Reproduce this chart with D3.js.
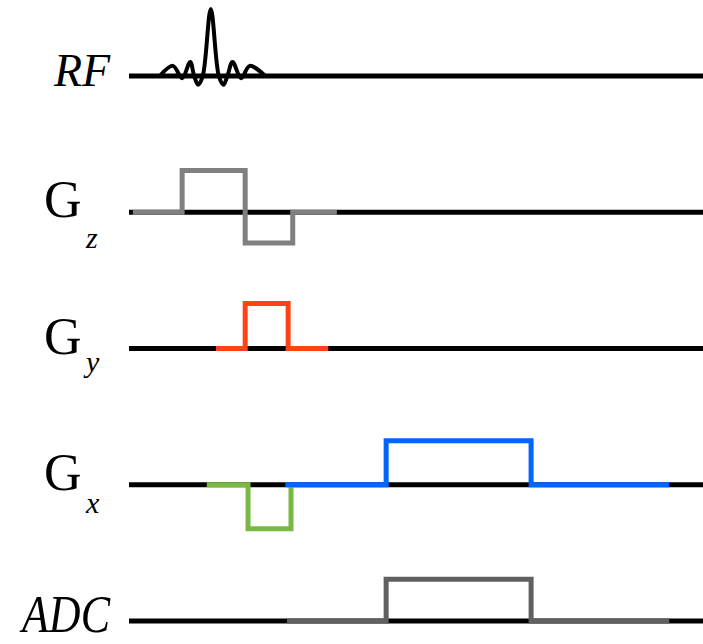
<!DOCTYPE html>
<html>
<head>
<meta charset="utf-8">
<script src="https://cdn.jsdelivr.net/npm/d3@7"></script>
<style>
  html, body { margin: 0; padding: 0; background: #fff; }
  svg { display: block; }
  .lbl { font-family: "Liberation Serif", "Times New Roman", serif; fill: #000; }
</style>
</head>
<body>
<div id="chart"></div>
<script>
// channel rows, top to bottom
const rows = ["RF", "Gz", "Gy", "Gx", "ADC"];

// waveforms as [time, amplitude]
const rfPulse = [[5.2, 0], [7.5, 0.23], [9.1, -0.05], [10.5, 0.32], [11.2, 0], [11.9, -0.2], [12.7, 0],
  [14.1, 1.52], [15.5, 0], [16.3, -0.2], [17.0, 0], [17.9, 0.32], [19.4, -0.05], [20.9, 0.23], [23.6, 0]];
const gzWave = [[0.5, 0], [9.1, 0], [9.1, 0.95], [20.1, 0.95], [20.1, -0.7], [28.4, -0.7], [28.4, 0], [36.1, 0]];
const gyWave = [[15.0, 0], [20.1, 0], [20.1, 1.02], [27.6, 1.02], [27.6, 0], [34.6, 0]];
const gxPrephase = [[13.4, 0], [20.6, 0], [20.6, -1.0], [28.1, -1.0], [28.1, 0]];
const gxReadout = [[27.1, 0], [44.7, 0], [44.7, 1.0], [70.0, 1.0], [70.0, 0], [94.1, 0]];
const adcWindow = [[27.4, 0], [44.7, 0], [44.7, 0.95], [70.0, 0.95], [70.0, 0], [94.1, 0]];

// gradient labels: main letter and subscript
const gradLabels = [["Gz", "z"], ["Gy", "y"], ["Gx", "x"]];

const width = 703, height = 644;

const svg = d3.select("#chart").append("svg")
  .attr("width", width)
  .attr("height", height);

const x = d3.scaleLinear().domain([0, 100]).range([130, 703]);
const row = d3.scalePoint().domain(rows).range([76, 621]);
const amp = d3.scaleLinear().domain([-1, 1]).range([44, -44]);

// black time axis for each channel
svg.selectAll(".base")
  .data(rows)
  .enter().append("line")
  .attr("class", "base")
  .attr("x1", 129)
  .attr("x2", width)
  .attr("y1", d => row(d))
  .attr("y2", d => row(d))
  .attr("stroke", "#000")
  .attr("stroke-width", 5);

const waves = [
  { row: "RF", pts: rfPulse, color: "#000", curve: d3.curveCatmullRom, w: 4 },
  { row: "Gz", pts: gzWave, color: "#808080", curve: d3.curveLinear, w: 5 },
  { row: "Gy", pts: gyWave, color: "#ff4316", curve: d3.curveLinear, w: 5 },
  { row: "Gx", pts: gxPrephase, color: "#79b943", curve: d3.curveLinear, w: 5 },
  { row: "Gx", pts: gxReadout, color: "#0064ff", curve: d3.curveLinear, w: 5 },
  { row: "ADC", pts: adcWindow, color: "#606060", curve: d3.curveLinear, w: 5 }
];

waves.forEach(wv => {
  const line = d3.line()
    .x(d => x(d[0]))
    .y(d => row(wv.row) + amp(d[1]))
    .curve(wv.curve);
  svg.append("path")
    .attr("d", line(wv.pts))
    .attr("fill", "none")
    .attr("stroke", wv.color)
    .attr("stroke-width", wv.w)
    .attr("stroke-linejoin", "miter")
    .attr("stroke-linecap", "butt");
});

// labels
svg.append("text")
  .attr("class", "lbl")
  .attr("x", 54)
  .attr("y", row("RF") + 10)
  .attr("font-size", 46)
  .attr("font-style", "italic")
  .text("RF");

// subscript drop below the axis, per row
const subDrop = { Gz: 36, Gy: 23, Gx: 28 };

gradLabels.forEach(g => {
  svg.append("text")
    .attr("class", "lbl")
    .attr("x", 44)
    .attr("y", row(g[0]) + 5)
    .attr("font-size", 52)
    .text("G");
  svg.append("text")
    .attr("class", "lbl")
    .attr("x", 86)
    .attr("y", row(g[0]) + subDrop[g[0]])
    .attr("font-size", 30)
    .attr("font-style", "italic")
    .text(g[1]);
});

svg.append("text")
  .attr("class", "lbl")
  .attr("transform", `translate(22,${row("ADC") + 11}) scale(1,1.2)`)
  .attr("font-size", 44)
  .attr("font-style", "italic")
  .text("ADC");
</script>
</body>
</html>
